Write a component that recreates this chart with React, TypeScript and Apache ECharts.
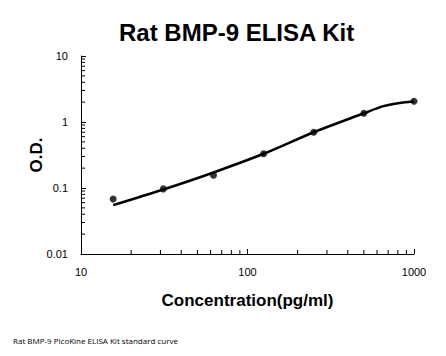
import React, { useEffect, useRef } from "react";
import * as echarts from "echarts";

const concentrations = [15.6, 31.25, 62.5, 125, 250, 500, 1000];
const odValues = [0.068, 0.097, 0.156, 0.331, 0.7, 1.355, 2.06];
const curveX = [15.6, 31.25, 62.5, 125, 250, 500, 655, 800, 1000];
const curveY = [0.055, 0.095, 0.172, 0.33, 0.70, 1.355, 1.74, 1.93, 2.05];
const xMinorTicks = [20, 30, 40, 50, 60, 70, 80, 90, 200, 300, 400, 500, 600, 700, 800, 900];
const yMinorTicks = [0.02, 0.03, 0.04, 0.05, 0.06, 0.07, 0.08, 0.09, 0.2, 0.3, 0.4, 0.5, 0.6, 0.7, 0.8, 0.9, 2, 3, 4, 5, 6, 7, 8, 9];

const FONT = "Liberation Sans, Arial, sans-serif";

export default function App() {
  const ref = useRef<HTMLDivElement>(null);
  useEffect(() => {
    if (!ref.current) return;
    const chart = echarts.init(ref.current, undefined, { renderer: "svg" });
    const tickStyle = { stroke: "#000", lineWidth: 1 };
    chart.setOption({
      animation: false,
      backgroundColor: "#fff",
      title: {
        text: "Rat BMP-9 ELISA Kit",
        left: 119,
        top: 20,
        padding: 0,
        textStyle: { fontFamily: FONT, fontSize: 24, fontWeight: "bold", color: "#000" },
      },
      graphic: [
        {
          type: "text",
          left: 13,
          top: 336,
          style: { text: "Rat BMP-9 PicoKine ELISA Kit standard curve", font: "8px 'Open Sans', sans-serif", fill: "#000" },
        },
      ],
      grid: { left: 81, top: 56, right: 32, bottom: 102, containLabel: false },
      xAxis: {
        type: "log",
        logBase: 10,
        min: 10,
        max: 1000,
        name: "Concentration(pg/ml)",
        nameLocation: "middle",
        nameGap: 38,
        nameMoveOverlap: false,
        nameTextStyle: { fontFamily: FONT, fontSize: 17, fontWeight: "bold", color: "#000" },
        axisLine: { lineStyle: { color: "#000", width: 1 } },
        axisTick: { show: true, inside: true, length: 5, lineStyle: { color: "#000" } },
        axisLabel: { fontFamily: FONT, fontSize: 11, color: "#000", margin: 12, formatter: (v: number) => String(Math.round(v)) },
        splitLine: { show: false },
      },
      yAxis: {
        type: "log",
        logBase: 10,
        min: 0.01,
        max: 10,
        name: "O.D.",
        nameLocation: "middle",
        nameGap: 36,
        nameMoveOverlap: false,
        nameTextStyle: { fontFamily: FONT, fontSize: 17, fontWeight: "bold", color: "#000" },
        axisLine: { show: true, lineStyle: { color: "#000", width: 1 } },
        axisTick: { show: true, inside: true, length: 5, lineStyle: { color: "#000" } },
        axisLabel: { fontFamily: FONT, fontSize: 11, color: "#000", margin: 13 },
        splitLine: { show: false },
      },
      series: [
        {
          type: "custom",
          silent: true,
          clip: false,
          data: xMinorTicks.map((v) => [v, 0.01]),
          renderItem: (params: any, api: any) => {
            const p = api.coord([api.value(0), api.value(1)]);
            return { type: "line", shape: { x1: p[0], y1: p[1], x2: p[0], y2: p[1] - 4 }, style: tickStyle };
          },
        },
        {
          type: "custom",
          silent: true,
          clip: false,
          data: yMinorTicks.map((v) => [10, v]),
          renderItem: (params: any, api: any) => {
            const p = api.coord([api.value(0), api.value(1)]);
            return { type: "line", shape: { x1: p[0], y1: p[1], x2: p[0] + 4, y2: p[1] }, style: tickStyle };
          },
        },
        {
          type: "line",
          data: curveX.map((x, i) => [x, curveY[i]]),
          smooth: 0.3,
          showSymbol: false,
          lineStyle: { color: "#000", width: 2.5 },
        },
        {
          type: "scatter",
          data: concentrations.map((x, i) => [x, odValues[i]]),
          symbol: "circle",
          symbolSize: 7,
          itemStyle: { color: "#000" },
        },
      ],
    });
    return () => chart.dispose();
  }, []);
  return <div ref={ref} style={{ width: 446, height: 356, position: "absolute", left: 0, top: 0 }} />;
}
